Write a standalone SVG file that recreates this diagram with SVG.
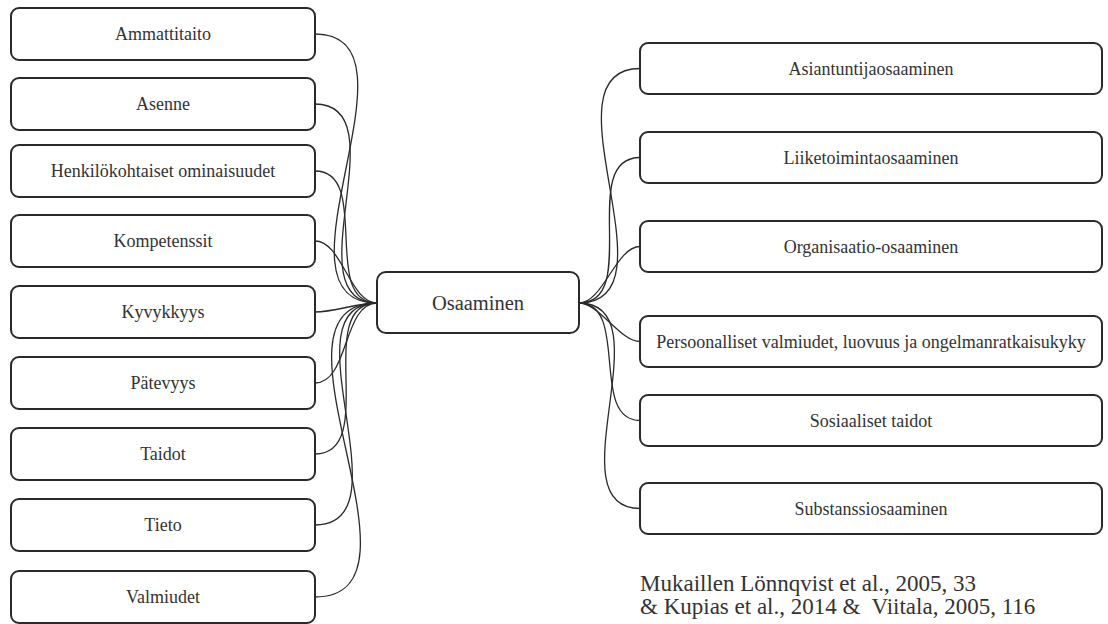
<svg xmlns="http://www.w3.org/2000/svg" width="1108" height="624" viewBox="0 0 1108 624">
  <style>
    .box { fill: #ffffff; stroke: #2a2a2a; stroke-width: 2; }
    .lbl { font-family: 'Liberation Serif', 'DejaVu Serif', serif; font-size: 18px; fill: #333333; text-anchor: middle; }
    .hub { font-size: 20.5px; }
    .edge { fill: none; stroke: #2a2a2a; stroke-width: 1.3; }
    .cite { font-family: 'Liberation Serif', 'DejaVu Serif', serif; font-size: 23px; fill: #333333; }
  </style>
  <rect width="1108" height="624" fill="#ffffff"/>

  <!-- connectors: left items to hub, hub to right items -->
  <g id="connectors">
    <path class="edge" d="M315,34 C431,34 261,303 377,303"/>
    <path class="edge" d="M315,104 C401,104 291,303 377,303"/>
    <path class="edge" d="M315,171 C372,171 320,303 377,303"/>
    <path class="edge" d="M315,241 C342,241 350,303 377,303"/>
    <path class="edge" d="M315,312 C335,312 357,303 377,303"/>
    <path class="edge" d="M315,383 C349,383 343,303 377,303"/>
    <path class="edge" d="M315,454 C380,454 312,303 377,303"/>
    <path class="edge" d="M315,525 C410,525 282,303 377,303"/>
    <path class="edge" d="M315,597 C441,597 251,303 377,303"/>

    <path class="edge" d="M579,303 C680,303 539,68.5 640,68.5"/>
    <path class="edge" d="M579,303 C642,303 577,157.5 640,157.5"/>
    <path class="edge" d="M579,303 C603,303 616,246.5 640,246.5"/>
    <path class="edge" d="M579,303 C599,303 620,341.5 640,341.5"/>
    <path class="edge" d="M579,303 C630,303 589,420.5 640,420.5"/>
    <path class="edge" d="M579,303 C667,303 552,508.5 640,508.5"/>
  </g>

  <!-- hub -->
  <g id="osaaminen">
    <rect class="box" x="377" y="272" width="202" height="61" rx="9"/>
    <text class="lbl hub" x="478" y="310">Osaaminen</text>
  </g>

  <!-- left column -->
  <g id="ammattitaito">
    <rect class="box" x="11" y="8" width="304" height="52" rx="8"/>
    <text class="lbl" x="163" y="40">Ammattitaito</text>
  </g>
  <g id="asenne">
    <rect class="box" x="11" y="78" width="304" height="52" rx="8"/>
    <text class="lbl" x="163" y="110">Asenne</text>
  </g>
  <g id="henkilokohtaiset">
    <rect class="box" x="11" y="145" width="304" height="52" rx="8"/>
    <text class="lbl" x="163" y="177">Henkilökohtaiset ominaisuudet</text>
  </g>
  <g id="kompetenssit">
    <rect class="box" x="11" y="215" width="304" height="52" rx="8"/>
    <text class="lbl" x="163" y="247">Kompetenssit</text>
  </g>
  <g id="kyvykkyys">
    <rect class="box" x="11" y="286" width="304" height="52" rx="8"/>
    <text class="lbl" x="163" y="318">Kyvykkyys</text>
  </g>
  <g id="patevyys">
    <rect class="box" x="11" y="357" width="304" height="52" rx="8"/>
    <text class="lbl" x="163" y="389">Pätevyys</text>
  </g>
  <g id="taidot">
    <rect class="box" x="11" y="428" width="304" height="52" rx="8"/>
    <text class="lbl" x="163" y="460">Taidot</text>
  </g>
  <g id="tieto">
    <rect class="box" x="11" y="499" width="304" height="52" rx="8"/>
    <text class="lbl" x="163" y="531">Tieto</text>
  </g>
  <g id="valmiudet">
    <rect class="box" x="11" y="571" width="304" height="52" rx="8"/>
    <text class="lbl" x="163" y="603">Valmiudet</text>
  </g>

  <!-- right column -->
  <g id="asiantuntijaosaaminen">
    <rect class="box" x="640" y="43" width="462" height="51" rx="8"/>
    <text class="lbl" x="871" y="74.5">Asiantuntijaosaaminen</text>
  </g>
  <g id="liiketoimintaosaaminen">
    <rect class="box" x="640" y="132" width="462" height="51" rx="8"/>
    <text class="lbl" x="871" y="163.5">Liiketoimintaosaaminen</text>
  </g>
  <g id="organisaatio-osaaminen">
    <rect class="box" x="640" y="221" width="462" height="51" rx="8"/>
    <text class="lbl" x="871" y="252.5">Organisaatio-osaaminen</text>
  </g>
  <g id="persoonalliset">
    <rect class="box" x="640" y="316" width="462" height="51" rx="8"/>
    <text class="lbl" x="871" y="347.5">Persoonalliset valmiudet, luovuus ja ongelmanratkaisukyky</text>
  </g>
  <g id="sosiaaliset">
    <rect class="box" x="640" y="395" width="462" height="51" rx="8"/>
    <text class="lbl" x="871" y="426.5">Sosiaaliset taidot</text>
  </g>
  <g id="substanssiosaaminen">
    <rect class="box" x="640" y="483" width="462" height="51" rx="8"/>
    <text class="lbl" x="871" y="514.5">Substanssiosaaminen</text>
  </g>

  <!-- source note -->
  <g id="lahteet">
    <text class="cite" x="640" y="591">Mukaillen Lönnqvist et al., 2005, 33</text>
    <text class="cite" x="640" y="614" xml:space="preserve">&amp; Kupias et al., 2014 &amp;  Viitala, 2005, 116</text>
  </g>
</svg>
